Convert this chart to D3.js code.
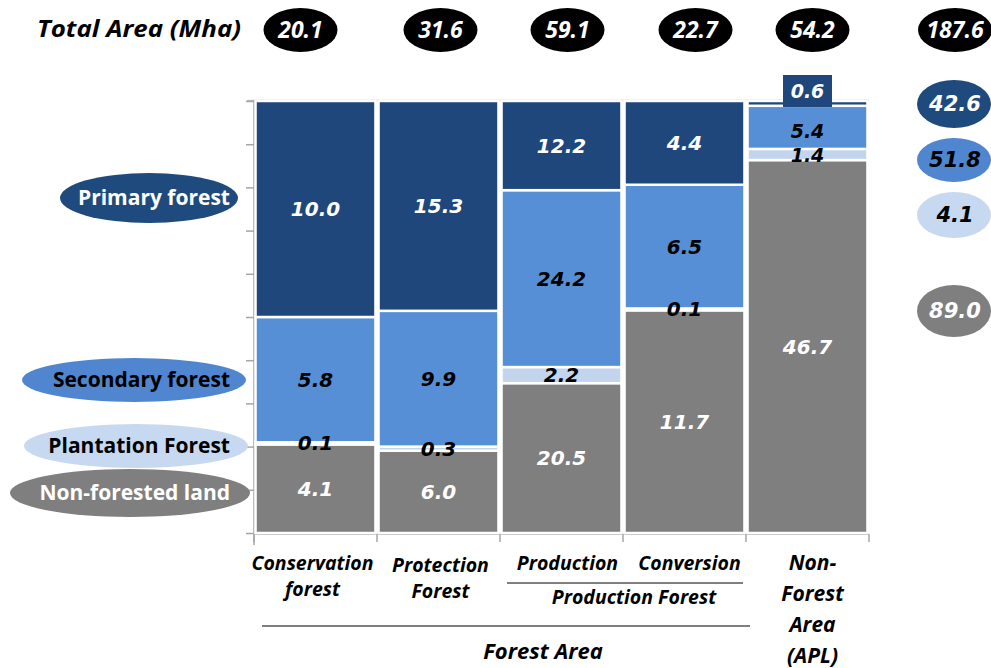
<!DOCTYPE html>
<html>
<head>
<meta charset="utf-8">
<script src="https://cdn.jsdelivr.net/npm/d3@7"></script>
<style>
  html, body { margin: 0; padding: 0; background: #fff; }
  svg { display: block; }
</style>
</head>
<body>
<svg id="chart" width="991" height="668"></svg>
<script>
// ---------------- DATA ----------------
const categories = ["Conservation forest", "Protection Forest", "Production", "Conversion", "Non-Forest Area (APL)"];
const nonForested = [4.1, 6.0, 20.5, 11.7, 46.7];
const plantation  = [0.1, 0.3, 2.2, 0.1, 1.4];
const secondary   = [5.8, 9.9, 24.2, 6.5, 5.4];
const primary     = [10.0, 15.3, 12.2, 4.4, 0.6];
const totalArea   = [20.1, 31.6, 59.1, 22.7, 54.2];
const grandTotal  = 187.6;
const seriesKeys  = ["nonForested", "plantation", "secondary", "primary"];
const seriesNames = ["Non-forested land", "Plantation Forest", "Secondary forest", "Primary forest"];
const seriesTotals = [89.0, 4.1, 51.8, 42.6];
const yTickValues = [0, 0.1, 0.2, 0.3, 0.4, 0.5, 0.6, 0.7, 0.8, 0.9, 1.0];

// ---------------- STYLE ----------------
const colors = { nonForested: "#7f7f7f", plantation: "#c3d5ed", secondary: "#568fd6", primary: "#1f477b" };
const labelColors = { nonForested: "#ffffff", plantation: "#000000", secondary: "#000000", primary: "#ffffff" };
const numFont = "'DejaVu Sans', Verdana, sans-serif";
const txtFont = "'Open Sans', Lato, sans-serif";

const rows = categories.map((c, i) => ({
  cat: c, nonForested: nonForested[i], plantation: plantation[i],
  secondary: secondary[i], primary: primary[i]
}));

const svg = d3.select("#chart");

const x = d3.scaleBand().domain(categories).range([254, 869]).paddingInner(0.025).paddingOuter(0.0125);
const y = d3.scaleLinear().domain([0, 1]).range([533, 101]);

const stacked = d3.stack().keys(seriesKeys).offset(d3.stackOffsetExpand)(rows);

// plot top border
svg.append("line").attr("x1", 247).attr("x2", 869).attr("y1", 100.5).attr("y2", 100.5)
  .attr("stroke", "#bfbfbf").attr("stroke-width", 1.5);

// y axis (no labels)
const yAxis = d3.axisLeft(y).tickValues(yTickValues).tickSize(8).tickFormat("");
const gy = svg.append("g").attr("transform", "translate(254,0)").call(yAxis);
gy.select(".domain").attr("stroke", "#a6a6a6").attr("stroke-width", 1.5).attr("d", "M-0,100V545");
gy.selectAll(".tick line").attr("stroke", "#a6a6a6").attr("stroke-width", 1.5);

// x axis (bottom line with ticks at band boundaries)
const boundaries = [254].concat(categories.map(c => x(c) + x.bandwidth() + x.step() * x.paddingInner() / 2));
const gx = svg.append("g");
gx.append("line").attr("x1", 254).attr("x2", 869).attr("y1", 534).attr("y2", 534)
  .attr("stroke", "#a6a6a6").attr("stroke-width", 1.5);
gx.selectAll("line.tk").data(boundaries).join("line").attr("class", "tk")
  .attr("x1", d => d).attr("x2", d => d).attr("y1", 534).attr("y2", 542)
  .attr("stroke", "#a6a6a6").attr("stroke-width", 1.5);

// bars
const layers = svg.append("g").selectAll("g").data(stacked).join("g")
  .attr("fill", d => colors[d.key]);
layers.selectAll("rect").data(d => d.map(v => ({ key: d.key, v }))).join("rect")
  .attr("x", d => x(d.v.data.cat))
  .attr("width", x.bandwidth())
  .attr("y", d => y(d.v[1]))
  .attr("height", d => Math.max(0, y(d.v[0]) - y(d.v[1])))
  .attr("stroke", "#fff").attr("stroke-width", 2.5);

// segment labels
const labels = svg.append("g");
stacked.forEach(layer => {
  layer.forEach((v, i) => {
    const cat = v.data.cat;
    const cx = x(cat) + x.bandwidth() / 2;
    const val = v.data[layer.key];
    const h = y(v[0]) - y(v[1]);
    if (layer.key === "primary" && h < 10) {
      // tiny top segment: label in a box above the bar
      labels.append("rect").attr("x", cx - 24.5).attr("y", 75).attr("width", 49).attr("height", 32)
        .attr("fill", colors.primary);
      labels.append("text").attr("x", cx).attr("y", 91).attr("dy", "0.35em")
        .attr("text-anchor", "middle").attr("font-family", numFont).attr("font-weight", "bold")
        .attr("font-style", "italic").attr("font-size", 19).attr("fill", "#fff").text(val.toFixed(1));
      return;
    }
    let cy = (y(v[0]) + y(v[1])) / 2;
    let fs = 20;
    if (layer.key === "secondary" && v.data.primary / d3.sum(seriesKeys, k => v.data[k]) < 0.02) { cy += 4; fs = 19; }
    if (layer.key === "plantation" && h < 15 && v.data.primary / d3.sum(seriesKeys, k => v.data[k]) < 0.02) { cy += 1; fs = 19; }
    labels.append("text").attr("x", cx).attr("y", cy).attr("dy", "0.35em")
      .attr("text-anchor", "middle").attr("font-family", numFont).attr("font-weight", "bold")
      .attr("font-style", "italic").attr("font-size", fs).attr("fill", labelColors[layer.key])
      .text(val.toFixed(1));
  });
});

// ---------------- TOP ROW: total area ----------------
svg.append("text").attr("x", 37).attr("y", 29).attr("dy", "0.35em")
  .attr("font-family", txtFont).attr("font-weight", "bold").attr("font-style", "italic")
  .attr("font-size", 23).attr("fill", "#000")
  .attr("textLength", 204).attr("lengthAdjust", "spacingAndGlyphs").text("Total Area (Mha)");
const topOffsets = [-15, 2, 6, 11, 5];
const topItems = totalArea.map((t, i) => ({ t, cx: x(categories[i]) + x.bandwidth() / 2 + topOffsets[i] }));
topItems.push({ t: grandTotal, cx: 955 });
const tg = svg.append("g").selectAll("g").data(topItems).join("g")
  .attr("transform", d => `translate(${d.cx},30)`);
tg.append("ellipse").attr("rx", 37).attr("ry", 22).attr("fill", "#000");
tg.append("text").attr("text-anchor", "middle").attr("dy", "0.35em")
  .attr("font-family", txtFont).attr("font-weight", "bold").attr("font-style", "italic")
  .attr("font-size", 23).attr("fill", "#fff").text(d => d.t.toFixed(1));

// ---------------- LEFT LEGEND ----------------
const legendPos = {
  primary: { cx: 149, cy: 198, rx: 89, ry: 25, fill: "#1f4a7d", tc: "#fff" },
  secondary: { cx: 134, cy: 380, rx: 112, ry: 22, fill: "#4f86cf", tc: "#000" },
  plantation: { cx: 136, cy: 446, rx: 112, ry: 22, fill: "#c6d9f1", tc: "#000" },
  nonForested: { cx: 130, cy: 493, rx: 120, ry: 24, fill: "#7f7f7f", tc: "#fff" }
};
const lg = svg.append("g");
seriesKeys.forEach((k, i) => {
  const p = legendPos[k];
  lg.append("ellipse").attr("cx", p.cx).attr("cy", p.cy).attr("rx", p.rx).attr("ry", p.ry).attr("fill", p.fill);
  lg.append("text").attr("x", 230).attr("y", p.cy).attr("dy", "0.35em").attr("text-anchor", "end")
    .attr("font-family", txtFont).attr("font-weight", "bold").attr("font-size", 21)
    .attr("fill", p.tc).text(seriesNames[i]);
});

// ---------------- RIGHT TOTALS ----------------
const rightPos = {
  primary: { cy: 104, ry: 24 },
  secondary: { cy: 160, ry: 22 },
  plantation: { cy: 215, ry: 23 },
  nonForested: { cy: 311, ry: 26 }
};
const rg = svg.append("g");
seriesKeys.forEach((k, i) => {
  const p = rightPos[k];
  rg.append("ellipse").attr("cx", 954).attr("cy", p.cy).attr("rx", 37).attr("ry", p.ry)
    .attr("fill", legendPos[k].fill);
  rg.append("text").attr("x", 955).attr("y", p.cy).attr("dy", "0.35em").attr("text-anchor", "middle")
    .attr("font-family", numFont).attr("font-weight", "bold").attr("font-style", "italic")
    .attr("font-size", 21).attr("fill", legendPos[k].tc).text(seriesTotals[i].toFixed(1));
});

// ---------------- X CATEGORY LABELS ----------------
const xl = svg.append("g").attr("font-family", txtFont).attr("font-weight", "bold")
  .attr("font-style", "italic").attr("fill", "#000").attr("text-anchor", "middle");
const cxOf = i => x(categories[i]) + x.bandwidth() / 2;
const catLines = [
  ["Conservation", "forest"],
  ["Protection", "Forest"],
  ["Production"],
  ["Conversion"]
];
const catOffsets = [-3, 2, 6, 5];
catLines.forEach((lines, i) => {
  lines.forEach((t, j) => {
    xl.append("text").attr("x", cxOf(i) + catOffsets[i]).attr("y", 570 + j * 26 + (i === 1 ? 2 : 0))
      .attr("font-size", 19.5).text(t);
  });
});
xl.append("line").attr("x1", 507).attr("x2", 743).attr("y1", 583).attr("y2", 583)
  .attr("stroke", "#000").attr("stroke-width", 1);
xl.append("text").attr("x", (cxOf(2) + cxOf(3)) / 2 + 11).attr("y", 604).attr("font-size", 19.5).text("Production Forest");
xl.append("line").attr("x1", 262).attr("x2", 750).attr("y1", 626).attr("y2", 626)
  .attr("stroke", "#000").attr("stroke-width", 1);
xl.append("text").attr("x", 543).attr("y", 659).attr("font-size", 22).text("Forest Area");
["Non-", "Forest", "Area", "(APL)"].forEach((t, j) => {
  xl.append("text").attr("x", cxOf(4) + 5).attr("y", 570 + j * 31).attr("font-size", 21).text(t);
});
</script>
</body>
</html>
